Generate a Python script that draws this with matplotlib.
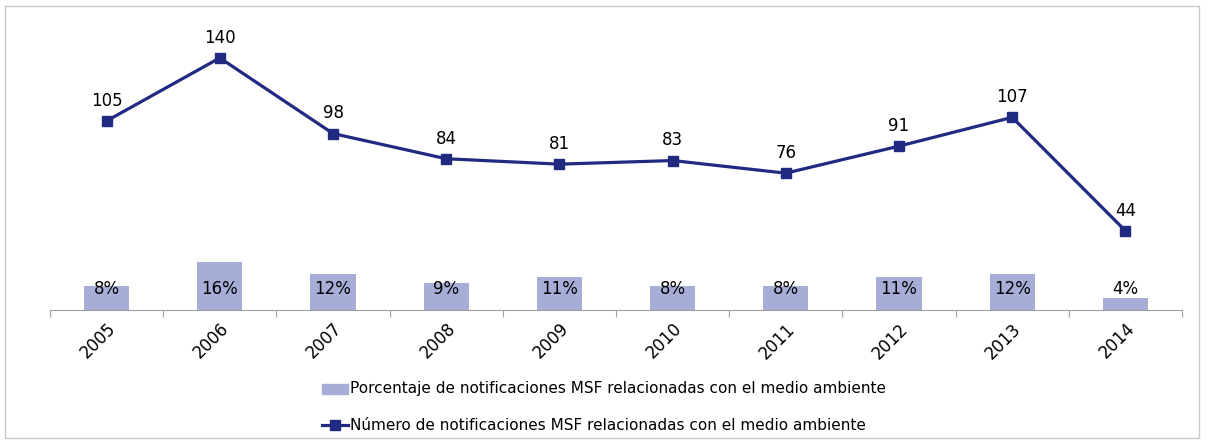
import matplotlib.pyplot as plt
from matplotlib.patches import Rectangle

# datos
anios = ['2005', '2006', '2007', '2008', '2009', '2010', '2011', '2012', '2013', '2014']
numero = [105, 140, 98, 84, 81, 83, 76, 91, 107, 44]
porcentaje = [8, 16, 12, 9, 11, 8, 8, 11, 12, 4]
etiquetas_pct = ['8%', '16%', '12%', '9%', '11%', '8%', '8%', '11%', '12%', '4%']

color_linea = '#1F2A80'
color_barra = '#A6AED8'

W, H = 1207, 441
plt.rcParams['font.family'] = ['DejaVu Sans']
fig = plt.figure(figsize=(W / 100, H / 100), dpi=100)

# borde del grafico
fig.patches.append(Rectangle((5 / W, 3 / H), 1194 / W, 432 / H, transform=fig.transFigure,
                             fill=False, edgecolor='#C8C8C8', linewidth=1))

left, right = 50 / W, 1182 / W
bottom, top = 1 - 310 / H, 1 - 21 / H
ax = fig.add_axes([left, bottom, right - left, top - bottom])
ax2 = ax.twinx()

x = list(range(len(anios)))

# barras (porcentaje)
ax.bar(x, porcentaje, width=0.4, color=color_barra, zorder=2)
ax.set_ylim(0, 96)
for i, t in enumerate(etiquetas_pct):
    ax.text(i, 7, t, ha='center', va='center', fontsize=12, color='#000000', zorder=3)

# linea (numero)
ax2.plot(x, numero, color=color_linea, linewidth=2.3, marker='s', markersize=6.5, zorder=4)
ax2.set_ylim(0, 160.5)
for i, v in enumerate(numero):
    ax2.annotate(str(v), (i, v), xytext=(0, 8), textcoords='offset points',
                 ha='center', va='bottom', fontsize=12, color='#000000')

ax.set_xlim(-0.5, len(anios) - 0.5)
for a in (ax, ax2):
    for s in ['top', 'right', 'left']:
        a.spines[s].set_visible(False)
    a.set_yticks([])
ax2.spines['bottom'].set_visible(False)
ax.spines['bottom'].set_color('#A0A0A0')

ax.set_xticks([i - 0.5 for i in range(len(anios) + 1)])
ax.set_xticklabels([])
ax.tick_params(axis='x', length=5, color='#A0A0A0')
ax.set_xticks(x, minor=True)
ax.set_xticklabels(anios, minor=True, rotation=45, ha='right', rotation_mode='anchor', fontsize=12)
ax.tick_params(axis='x', which='minor', length=0, pad=7)

# leyenda
lx = 322 / W
fig.patches.append(Rectangle((lx, 1 - 394 / H), 26 / W, 10 / H, transform=fig.transFigure,
                             color=color_barra))
fig.text(lx + 28 / W, 1 - 389 / H, 'Porcentaje de notificaciones MSF relacionadas con el medio ambiente',
         va='center', fontsize=11)
fig.add_artist(plt.Line2D([lx, lx + 26 / W], [1 - 425 / H, 1 - 425 / H], color=color_linea,
                          linewidth=2.3))
fig.add_artist(plt.Line2D([lx + 13 / W], [1 - 425 / H], color=color_linea, marker='s',
                          markersize=6.5, linestyle='none'))
fig.text(lx + 28 / W, 1 - 425 / H, 'Número de notificaciones MSF relacionadas con el medio ambiente',
         va='center', fontsize=11)

fig.savefig('out.png', dpi=100)
